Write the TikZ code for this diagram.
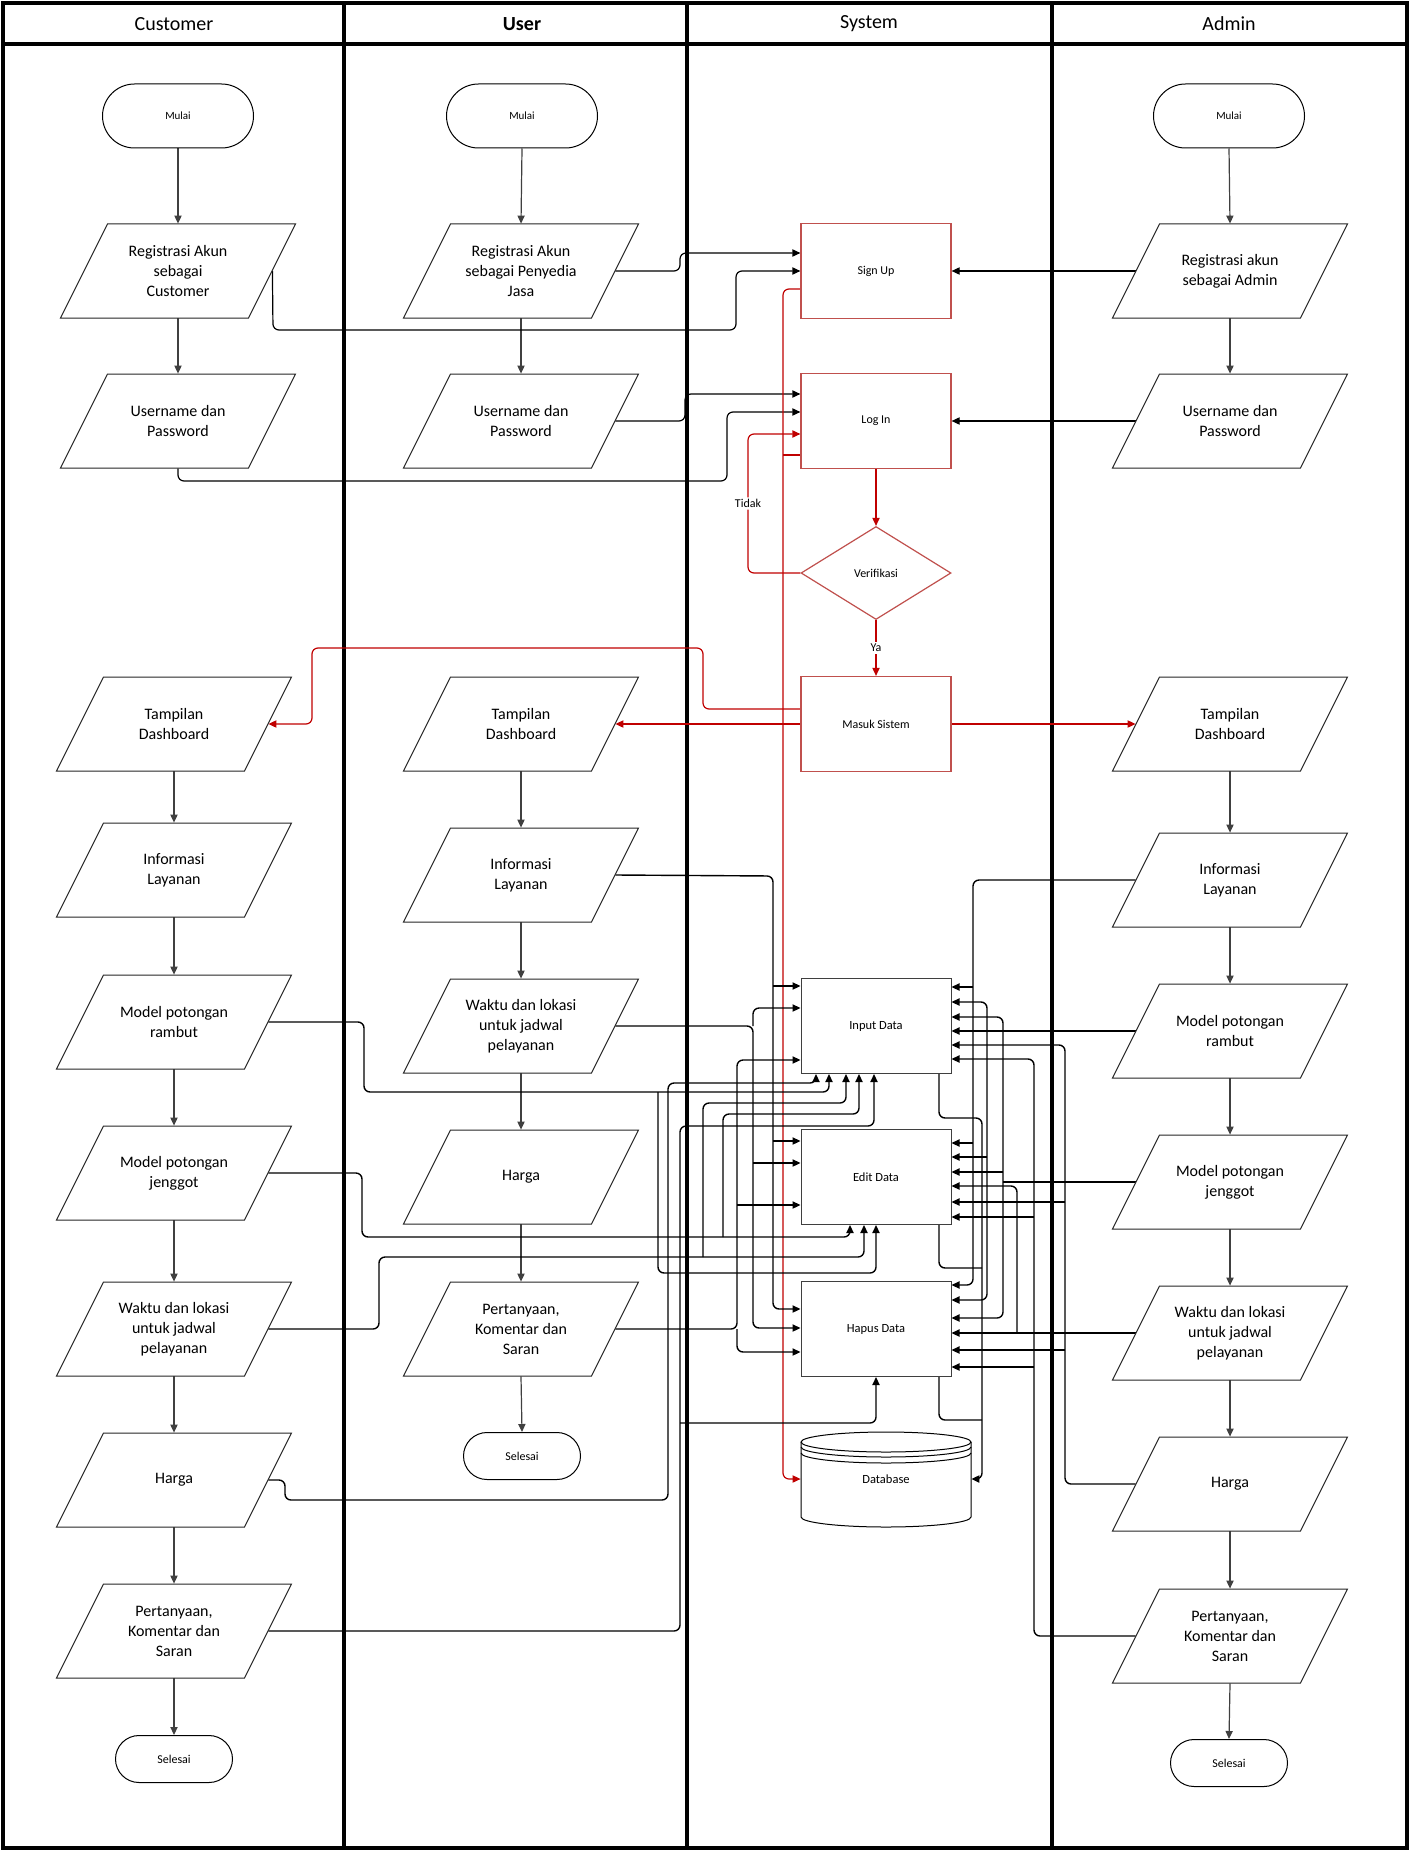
\documentclass[tikz,border=0pt]{standalone}
\usepackage{fontspec}
\setmainfont{Carlito}
\usetikzlibrary{arrows.meta,shapes.geometric}
\pgfdeclarelayer{bg}
\pgfsetlayers{bg,main}
\definecolor{redline}{HTML}{C00000}
\definecolor{redbox}{HTML}{C0504D}
\definecolor{boxgray}{HTML}{3F3F3F}
\tikzset{
 lanesep/.style={line width=2pt, black},
 termbox/.style={draw=black, fill=white, line width=0.5pt, rounded corners=16pt, minimum width=75.5pt, minimum height=32pt, inner sep=0pt, font=\fontsize{5.5}{6.5}\selectfont},
 endbox/.style={termbox, rounded corners=11.75pt, minimum width=58.5pt, minimum height=23.5pt, font=\fontsize{6}{7}\selectfont},
 paratext/.style={minimum width=94pt, minimum height=47pt, inner sep=0pt, align=center, font=\fontsize{8}{10}\selectfont},
 parashape/.style={draw=black!85, fill=white, line width=0.5pt},
 sysbox/.style={draw=redbox, fill=white, line width=0.6pt, minimum width=75pt, minimum height=47.5pt, inner sep=0pt, font=\fontsize{6}{7}\selectfont},
 datbox/.style={draw=boxgray, fill=white, line width=0.5pt, minimum width=75pt, minimum height=47.5pt, inner sep=0pt, font=\fontsize{6.25}{7}\selectfont},
 decbox/.style={diamond, draw=redbox, fill=white, line width=0.6pt, minimum width=75pt, minimum height=46.5pt, inner sep=0pt, font=\fontsize{6}{7}\selectfont},
 tip/.style={-{Triangle[length=4pt,width=3.6pt]}},
 flow/.style={tip, line width=0.6pt, draw=black!75},
 dconn/.style={line width=0.7pt, draw=black, rounded corners=3pt},
 darr/.style={dconn, tip},
 rconn/.style={line width=0.6pt, draw=redline, rounded corners=3pt},
 rarr/.style={rconn, tip},
 lbl/.style={fill=white, inner sep=1pt, font=\fontsize{6}{7}\selectfont},
 head/.style={font=\fontsize{10}{12}\selectfont},
}
\newcommand{\parnode}[4]{%
 \path[parashape] ({#2-70.5},{#3-47}) -- ({#2+117.5},{#3-47}) -- ({#2+70.5},{#3+47}) -- ({#2-117.5},{#3+47}) -- cycle;
 \node[paratext] (#1) at (#2,#3) {#4};}
\begin{document}
\begin{tikzpicture}[x=0.5pt,y=-0.5pt]
\useasboundingbox (0,0) rectangle (1410,1851);

% headers
\node[head] (hCust) at (174,24) {Customer};
\node[head,font=\fontsize{10}{12}\selectfont\bfseries] (hUser) at (522,24) {User};
\node[head] (hSys) at (869,24) {System};
\node[head] (hAdm) at (1229,24) {Admin};

% Customer lane
\node[termbox] (cStart) at (178,116) {Mulai};
\parnode{cReg}{178}{271}{Registrasi Akun\\sebagai\\Customer}
\parnode{cUsr}{178}{421}{Username dan\\Password}
\parnode{cDash}{174}{724}{Tampilan\\Dashboard}
\parnode{cInfo}{174}{870}{Informasi\\Layanan}
\parnode{cRam}{174}{1022}{Model potongan\\rambut}
\parnode{cJen}{174}{1173}{Model potongan\\jenggot}
\parnode{cWak}{174}{1329}{Waktu dan lokasi\\untuk jadwal\\pelayanan}
\parnode{cHar}{174}{1480}{Harga}
\parnode{cPer}{174}{1631}{Pertanyaan,\\Komentar dan\\Saran}
\node[endbox] (cEnd) at (174,1759) {Selesai};

% User lane
\node[termbox] (uStart) at (522,116) {Mulai};
\parnode{uReg}{521}{271}{Registrasi Akun\\sebagai Penyedia\\Jasa}
\parnode{uUsr}{521}{421}{Username dan\\Password}
\parnode{uDash}{521}{724}{Tampilan\\Dashboard}
\parnode{uInfo}{521}{875}{Informasi\\Layanan}
\parnode{uWak}{521}{1026}{Waktu dan lokasi\\untuk jadwal\\pelayanan}
\parnode{uHar}{521}{1177}{Harga}
\parnode{uPer}{521}{1329}{Pertanyaan,\\Komentar dan\\Saran}
\node[endbox] (uEnd) at (522,1456) {Selesai};

% System lane
\node[sysbox] (su) at (876,271) {Sign Up};
\node[sysbox] (li) at (876,421) {Log In};
\node[decbox] (ver) at (876,573) {Verifikasi};
\node[sysbox] (ms) at (876,724) {Masuk Sistem};
\node[datbox] (inp) at (876,1026) {Input Data};
\node[datbox] (edt) at (876,1177) {Edit Data};
\node[datbox] (hap) at (876,1329) {Hapus Data};
% database cylinder
\path[fill=white] (801,1442) -- (801,1517) arc[start angle=180,end angle=360,x radius=42.5pt,y radius=5pt] -- (971,1442) arc[start angle=0,end angle=180,x radius=42.5pt,y radius=5pt] -- cycle;
\draw[line width=0.5pt] (801,1442) -- (801,1517) arc[start angle=180,end angle=360,x radius=42.5pt,y radius=5pt] -- (971,1442);
\draw[line width=0.5pt] (886,1442) ellipse[x radius=42.5pt,y radius=5pt];
\draw[line width=0.5pt] (801,1447) arc[start angle=180,end angle=360,x radius=42.5pt,y radius=5pt];
\draw[line width=0.5pt] (801,1453) arc[start angle=180,end angle=360,x radius=42.5pt,y radius=5pt];
\node[minimum width=85pt, minimum height=47.5pt, inner sep=0pt, font=\fontsize{6.25}{7}\selectfont] (db) at (886,1479) {Database};

% Admin lane
\node[termbox] (aStart) at (1229,116) {Mulai};
\parnode{aReg}{1230}{271}{Registrasi akun\\sebagai Admin}
\parnode{aUsr}{1230}{421}{Username dan\\Password}
\parnode{aDash}{1230}{724}{Tampilan\\Dashboard}
\parnode{aInfo}{1230}{880}{Informasi\\Layanan}
\parnode{aRam}{1230}{1031}{Model potongan\\rambut}
\parnode{aJen}{1230}{1182}{Model potongan\\jenggot}
\parnode{aWak}{1230}{1333}{Waktu dan lokasi\\untuk jadwal\\pelayanan}
\parnode{aHar}{1230}{1484}{Harga}
\parnode{aPer}{1230}{1636}{Pertanyaan,\\Komentar dan\\Saran}
\node[endbox] (aEnd) at (1229,1763) {Selesai};

\begin{pgfonlayer}{bg}
% frame and lanes
\draw[lanesep] (3,3) rectangle (1407,1848);
\draw[lanesep] (3,44) -- (1407,44);
\draw[lanesep] (344,3) -- (344,1848);
\draw[lanesep] (687,3) -- (687,1848);
\draw[lanesep] (1052,3) -- (1052,1848);

% vertical flows
\draw[flow] (cStart.south) -- (cReg.north);
\draw[flow] (cReg.south) -- (cUsr.north);
\draw[flow] (cDash.south) -- (cInfo.north);
\draw[flow] (cInfo.south) -- (cRam.north);
\draw[flow] (cRam.south) -- (cJen.north);
\draw[flow] (cJen.south) -- (cWak.north);
\draw[flow] (cWak.south) -- (cHar.north);
\draw[flow] (cHar.south) -- (cPer.north);
\draw[flow] (cPer.south) -- (cEnd.north);
\draw[flow] (uStart.south) -- (uReg.north);
\draw[flow] (uReg.south) -- (uUsr.north);
\draw[flow] (uDash.south) -- (uInfo.north);
\draw[flow] (uInfo.south) -- (uWak.north);
\draw[flow] (uWak.south) -- (uHar.north);
\draw[flow] (uHar.south) -- (uPer.north);
\draw[flow] (uPer.south) -- (uEnd.north);
\draw[flow] (aStart.south) -- (aReg.north);
\draw[flow] (aReg.south) -- (aUsr.north);
\draw[flow] (aDash.south) -- (aInfo.north);
\draw[flow] (aInfo.south) -- (aRam.north);
\draw[flow] (aRam.south) -- (aJen.north);
\draw[flow] (aJen.south) -- (aWak.north);
\draw[flow] (aWak.south) -- (aHar.north);
\draw[flow] (aHar.south) -- (aPer.north);
\draw[flow] (aPer.south) -- (aEnd.north);

% sign up / log in
\draw[darr,line width=0.6pt] (uReg.east) -- (680,271) -- (680,253) -- (su.west |- 0,253);
\draw[darr,line width=0.6pt] (cReg.east) -- (273,330) -- (736,330) -- (736,271) -- (su.west);
\draw[darr,line width=0.6pt] (aReg.west) -- (su.east);
\draw[darr,line width=0.6pt] (uUsr.east) -- (685,421) -- (685,394) -- (li.west |- 0,394);
\draw[darr,line width=0.6pt] (cUsr.south) -- (178,481) -- (727,481) -- (727,412) -- (li.west |- 0,412);
\draw[darr,line width=0.6pt] (aUsr.west) -- (li.east);

% red system flow
\draw[rarr] (su.west |- 0,289) -- (783,289) -- (783,1479) -- (db.west);
\draw[rconn] (li.west |- 0,455) -- (783,455);
\draw[rarr] (li.south) -- (ver.north);
\draw[rarr] (ver.south) -- node[lbl] (ya) {Ya} (ms.north);
\draw[rarr] (ver.west) -- (748,573) -- node[lbl,pos=0.5] (tidak) {Tidak} (748,434) -- (li.west |- 0,434);
\draw[rarr] (ms.west |- 0,709) -- (703,709) -- (703,648) -- (312,648) -- (312,724) -- (cDash.east);
\draw[rarr] (ms.west) -- (uDash.east);
\draw[rarr] (ms.east) -- (aDash.west);

% data boxes to database
\draw[darr] (inp.south -| 939,0) -- (939,1118) -- (982,1118) -- (982,1479) -- (db.east);
\draw[dconn] (edt.south -| 939,0) -- (939,1268) -- (982,1268);
\draw[dconn] (hap.south -| 939,0) -- (939,1420) -- (982,1420);

% User -> data boxes (left side)
\draw[darr] (uInfo.east) -- (773,876) -- (773,1309) -- (hap.west |- 0,1309);
\draw[darr] (773,986) -- (inp.west |- 0,986);
\draw[darr] (773,1141) -- (edt.west |- 0,1141);
\draw[darr] (uWak.east) -- (753,1026) -- (753,1328) -- (hap.west |- 0,1328);
\draw[darr] (753,1026) -- (753,1008) -- (inp.west |- 0,1008);
\draw[darr] (753,1163) -- (edt.west |- 0,1163);
\draw[darr] (uPer.east) -- (737,1329) -- (737,1060) -- (inp.west |- 0,1060);
\draw[darr] (737,1205) -- (edt.west |- 0,1205);
\draw[darr] (737,1329) -- (737,1352) -- (hap.west |- 0,1352);

% Customer -> data boxes (bottom)
\draw[darr] (cRam.east) -- (364,1022) -- (364,1092) -- (829,1092) -- (inp.south -| 829,0);
\draw[darr] (658,1092) -- (658,1273) -- (876,1273) -- (edt.south);
\draw[darr] (cJen.east) -- (362,1173) -- (362,1237) -- (850,1237) -- (edt.south -| 850,0);
\draw[darr] (723,1237) -- (723,1114) -- (859,1114) -- (inp.south -| 859,0);
\draw[darr] (cWak.east) -- (379,1329) -- (379,1257) -- (864,1257) -- (edt.south -| 864,0);
\draw[darr] (703,1257) -- (703,1103) -- (846,1103) -- (inp.south -| 846,0);
\draw[darr] (cHar.east) -- (285,1480) -- (285,1500) -- (668,1500) -- (668,1083) -- (816,1083) -- (inp.south -| 816,0);
\draw[darr] (cPer.east) -- (680,1631) -- (680,1126) -- (874,1126) -- (inp.south -| 874,0);
\draw[darr] (680,1423) -- (876,1423) -- (hap.south);

% Admin -> data boxes (right side)
\draw[darr] (aInfo.west) -- (973,880) -- (973,1285) -- (hap.east |- 0,1285);
\draw[darr] (973,987) -- (inp.east |- 0,987);
\draw[darr] (973,1143) -- (edt.east |- 0,1143);
\draw[darr] (aRam.west) -- (inp.east |- 0,1031);
\draw[darr] (987,1031) -- (987,1002) -- (inp.east |- 0,1002);
\draw[darr] (987,1031) -- (987,1300) -- (hap.east |- 0,1300);
\draw[darr] (987,1157) -- (edt.east |- 0,1157);
\draw[dconn] (aJen.west) -- (1003,1182);
\draw[darr] (1003,1182) -- (1003,1017) -- (inp.east |- 0,1017);
\draw[darr] (1003,1182) -- (1003,1318) -- (hap.east |- 0,1318);
\draw[darr] (1003,1172) -- (edt.east |- 0,1172);
\draw[darr] (aWak.west) -- (hap.east |- 0,1333);
\draw[darr] (1017,1333) -- (1017,1186) -- (edt.east |- 0,1186);
\draw[darr] (aHar.west) -- (1065,1484) -- (1065,1045) -- (inp.east |- 0,1045);
\draw[darr] (1065,1202) -- (edt.east |- 0,1202);
\draw[darr] (1065,1350) -- (hap.east |- 0,1350);
\draw[darr] (aPer.west) -- (1034,1636) -- (1034,1059) -- (inp.east |- 0,1059);
\draw[darr] (1034,1217) -- (edt.east |- 0,1217);
\draw[darr] (1034,1367) -- (hap.east |- 0,1367);
\end{pgfonlayer}
\end{tikzpicture}
\end{document}
